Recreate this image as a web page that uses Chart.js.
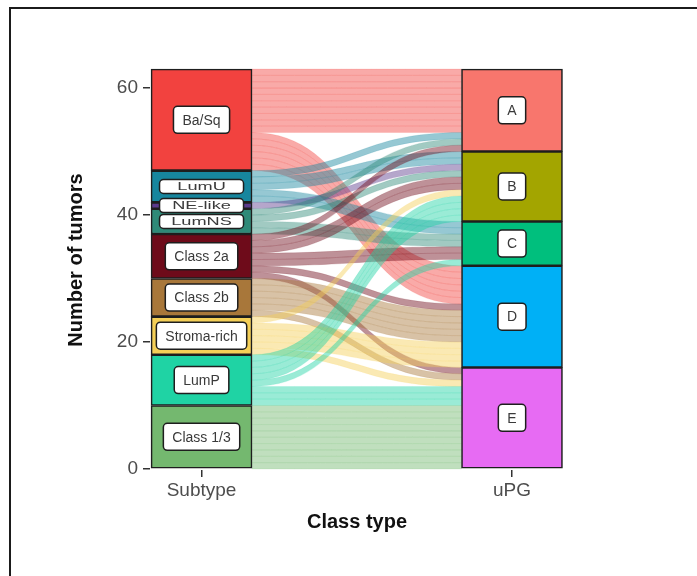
<!DOCTYPE html>
<html>
<head>
<meta charset="utf-8">
<script src="https://cdn.jsdelivr.net/npm/chart.js@4.4.0/dist/chart.umd.min.js"></script>
<style>
  body { margin: 0; background: #fff; }
  #wrap { position: relative; width: 697px; height: 576px; }
  #frame { position: absolute; left: 9px; top: 7px; right: 0; bottom: 0;
           border-top: 2px solid #1b1b1b; border-left: 2px solid #1b1b1b; pointer-events: none; }
</style>
</head>
<body>
<div id="wrap">
  <canvas id="alluvial" width="697" height="576"></canvas>
  <div id="frame"></div>
</div>
<script>
// strata, top to bottom
var subtypes = ['Ba/Sq', 'LumU', 'NE-like', 'LumNS', 'Class 2a', 'Class 2b', 'Stroma-rich', 'LumP', 'Class 1/3'];
var subtypeColors = ['#f2423f', '#17869e', '#5b3a8c', '#2f8a78', '#6e0b1a', '#a8773a', '#f4cf57', '#1fd3a4', '#74b86f'];
var upgGroups = ['A', 'B', 'C', 'D', 'E'];
var upgColors = ['#F8766D', '#A3A500', '#00BF7D', '#00B0F6', '#E76BF3'];

// tumours per subtype (rows) ending up in each uPG group (columns A..E)
var transitions = [
    [10, 0, 0, 6, 0],
    [1, 2, 2, 0, 0],
    [0, 1, 0, 0, 0],
    [1, 1, 2, 0, 0],
    [1, 2, 2, 1, 1],
    [0, 0, 0, 5, 1],
    [0, 1, 0, 4, 1],
    [0, 4, 1, 0, 3],
    [0, 0, 0, 0, 10]
];

var axisLabels = ['Subtype', 'uPG'];
var yTicks = [0, 20, 40, 60];

var subtypeCounts = transitions.map(function (row) {
    return row.reduce(function (a, b) { return a + b; }, 0);
});
var upgCounts = upgGroups.map(function (g, j) {
    return transitions.reduce(function (s, row) { return s + row[j]; }, 0);
});

var BAR_W = 101;
var FONT = "'Liberation Sans', Arial, sans-serif";

// stacked datasets go bottom first
var datasets = [];
for (var i = subtypes.length - 1; i >= 0; i--) {
    datasets.push({
        label: subtypes[i],
        data: [{x: 1, y: subtypeCounts[i]}],
        backgroundColor: subtypeColors[i]
    });
}
for (var j = upgGroups.length - 1; j >= 0; j--) {
    datasets.push({
        label: upgGroups[j],
        data: [{x: 2, y: upgCounts[j]}],
        backgroundColor: upgColors[j]
    });
}
datasets.forEach(function (d) {
    d.borderColor = '#1e1e1e';
    d.borderWidth = 1.6;
    d.borderSkipped = false;
    d.barThickness = BAR_W;
    d.clip = false;
});

function stratumTops(counts) {
    var total = counts.reduce(function (a, b) { return a + b; }, 0);
    var tops = [];
    counts.forEach(function (c) { tops.push(total); total -= c; });
    return tops;
}

function ribbon(ctx, x0, x1, ya, yb, za, zb) {
    var mx = (x0 + x1) / 2;
    ctx.beginPath();
    ctx.moveTo(x0, ya);
    ctx.bezierCurveTo(mx, ya, mx, za, x1, za);
    ctx.lineTo(x1, zb);
    ctx.bezierCurveTo(mx, zb, mx, yb, x0, yb);
    ctx.closePath();
    ctx.fill();
    ctx.stroke();
}

// one ribbon per tumour between the two axes
var flowPlugin = {
    id: 'flows',
    beforeDatasetsDraw: function (chart) {
        var ctx = chart.ctx, xs = chart.scales.x, ys = chart.scales.y;
        var x0 = xs.getPixelForValue(1) + BAR_W / 2;
        var x1 = xs.getPixelForValue(2) - BAR_W / 2;
        var leftTop = stratumTops(subtypeCounts);
        var rightTop = stratumTops(upgCounts);

        var rightStart = subtypes.map(function () { return []; });
        upgGroups.forEach(function (g, j) {
            var off = rightTop[j];
            subtypes.forEach(function (s, i) {
                rightStart[i][j] = off;
                off -= transitions[i][j];
            });
        });

        ctx.save();
        ctx.globalAlpha = 0.45;
        ctx.lineWidth = 0.3;
        subtypes.forEach(function (s, i) {
            var off = leftTop[i];
            ctx.fillStyle = subtypeColors[i];
            ctx.strokeStyle = subtypeColors[i];
            upgGroups.forEach(function (g, j) {
                var n = transitions[i][j];
                for (var k = 0; k < n; k++) {
                    ribbon(ctx, x0, x1,
                        ys.getPixelForValue(off - k), ys.getPixelForValue(off - k - 1),
                        ys.getPixelForValue(rightStart[i][j] - k), ys.getPixelForValue(rightStart[i][j] - k - 1));
                }
                off -= n;
            });
        });
        ctx.restore();
    }
};

function roundBox(ctx, x, y, w, h, r) {
    ctx.beginPath();
    ctx.moveTo(x + r, y);
    ctx.arcTo(x + w, y, x + w, y + h, r);
    ctx.arcTo(x + w, y + h, x, y + h, r);
    ctx.arcTo(x, y + h, x, y, r);
    ctx.arcTo(x, y, x + w, y, r);
    ctx.closePath();
    ctx.fill();
    ctx.stroke();
}

// white name tags on every stratum
var labelPlugin = {
    id: 'stratumLabels',
    afterDatasetsDraw: function (chart) {
        var ctx = chart.ctx;
        ctx.save();
        ctx.font = '14px ' + FONT;
        ctx.textAlign = 'center';
        ctx.textBaseline = 'middle';
        ctx.lineWidth = 1.5;
        ctx.strokeStyle = '#1e1e1e';
        chart.data.datasets.forEach(function (ds, di) {
            var el = chart.getDatasetMeta(di).data[0];
            var cx = el.x, cy = (el.y + el.base) / 2;
            var h = Math.abs(el.base - el.y);
            var text = ds.label;
            var tw = ctx.measureText(text).width;
            ctx.fillStyle = '#ffffff';
            if (h < 35) {
                // thin strata get squeezed tags
                roundBox(ctx, cx - 42, cy - 7, 84, 14, 4);
                ctx.save();
                ctx.translate(cx, cy + 0.5);
                ctx.scale(1.3, 0.72);
                ctx.fillStyle = '#3a3a3a';
                ctx.fillText(text, 0, 0);
                ctx.restore();
            } else {
                var bw = tw + 18, bh = 27;
                roundBox(ctx, cx - bw / 2, cy - bh / 2, bw, bh, 4);
                ctx.fillStyle = '#3a3a3a';
                ctx.fillText(text, cx, cy + 1);
            }
        });
        ctx.restore();
    }
};

var chart = new Chart(document.getElementById('alluvial'), {
    type: 'bar',
    data: {datasets: datasets},
    options: {
        responsive: false,
        animation: false,
        layout: {padding: {left: 64, right: 133, top: 50, bottom: 42}},
        plugins: {legend: {display: false}, tooltip: {enabled: false}},
        scales: {
            x: {
                type: 'linear',
                stacked: true,
                offset: false,
                min: 0.834,
                max: 2.1675,
                afterBuildTicks: function (s) { s.ticks = [{value: 1}, {value: 2}]; },
                afterFit: function (s) { s.height = 64; },
                ticks: {
                    callback: function (v) { return axisLabels[v - 1]; },
                    color: '#4d4d4d',
                    font: {family: FONT, size: 19},
                    padding: 2,
                    autoSkip: false,
                    maxRotation: 0
                },
                grid: {offset: false, drawOnChartArea: false, drawTicks: true, tickLength: 7, color: '#333', lineWidth: 1.5},
                border: {display: false},
                title: {display: true, text: 'Class type', color: '#111', padding: 0,
                        font: {family: FONT, size: 20, weight: 'bold'}}
            },
            y: {
                stacked: true,
                min: -0.16,
                max: 66,
                afterBuildTicks: function (s) { s.ticks = yTicks.map(function (v) { return {value: v}; }); },
                afterFit: function (s) { s.width = 86; },
                ticks: {color: '#4d4d4d', font: {family: FONT, size: 19}, padding: 5},
                grid: {drawOnChartArea: false, drawTicks: true, tickLength: 7, color: '#333', lineWidth: 1.5},
                border: {display: false},
                title: {display: true, text: 'Number of tumors', color: '#111', padding: 0,
                        font: {family: FONT, size: 20, weight: 'bold'}}
            }
        }
    },
    plugins: [flowPlugin, labelPlugin]
});
</script>
</body>
</html>
